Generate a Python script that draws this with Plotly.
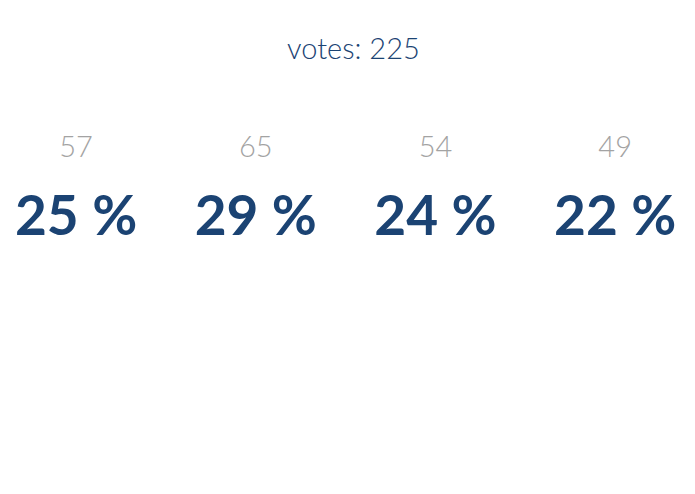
import plotly.graph_objects as go

# Poll results
options = ["A", "B", "C", "D"]
counts = [57, 65, 54, 49]
total = sum(counts)
percents = [round(c * 100 / total) for c in counts]

blue = "#1b4373"
grey = "#a3a3a3"
font_family = "Lato"

fig = go.Figure()

# vote counts (top row)
fig.add_trace(go.Scatter(
    x=list(range(len(options))),
    y=[1] * len(options),
    mode="text",
    text=[str(c) for c in counts],
    textposition="middle center",
    textfont=dict(family=font_family, size=29, color=grey, weight=300),
    hoverinfo="skip",
))

# percentages (bottom row)
fig.add_trace(go.Scatter(
    x=list(range(len(options))),
    y=[0] * len(options),
    mode="text",
    text=[f"{p} %" for p in percents],
    textposition="middle center",
    textfont=dict(family=font_family, size=55, color=blue, weight=700),
    hoverinfo="skip",
))

fig.update_layout(
    width=695,
    height=494,
    margin=dict(l=0, r=0, t=0, b=0),
    paper_bgcolor="white",
    plot_bgcolor="white",
    showlegend=False,
    title=dict(
        text=f"votes: {total}",
        x=0.497, xanchor="center",
        y=0.918, yanchor="middle",
        font=dict(family=font_family, size=29, color=blue, weight=300),
    ),
    xaxis=dict(range=[-0.379, 3.489], visible=False, fixedrange=True),
    yaxis=dict(range=[-3.958, 3.0], visible=False, fixedrange=True),
)

fig.write_html("out.html")
